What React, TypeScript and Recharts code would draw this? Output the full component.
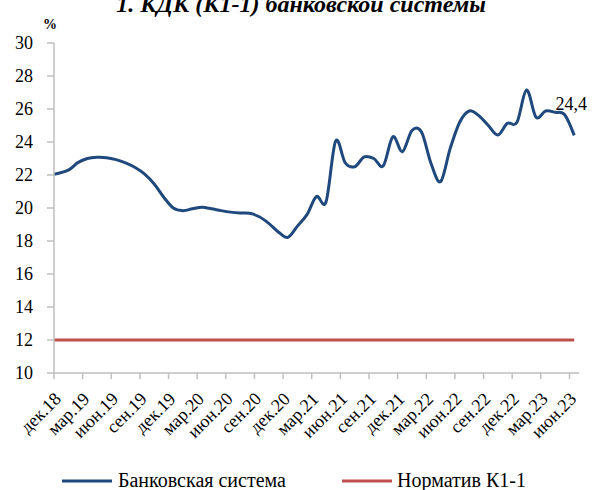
import React from 'react';
import { LineChart, Line, XAxis, YAxis } from 'recharts';

// Month offsets from дек.18 (reporting dates)
const monthPositions = [
  0, 1.5, 2.5, 3.5, 4.5, 5.5, 6.5, 7.5, 8.5, 9.5, 10.5, 11.5, 12.5, 13.5, 14.5, 15.5, 16.5, 17.5, 18.5, 19.5,
  20.5, 21.5, 22.5, 23.5, 24.5, 25.5, 26.5, 27.5, 28.5, 29.5, 30.5, 31.5, 32.5, 33.5, 34.5, 35.5, 36.5, 37.5,
  38.5, 39.5, 40.5, 41.5, 42.5, 43.5, 44.5, 45.5, 46.5, 47.5, 48.5, 49.5, 50.5, 51.5, 52.5, 53.5, 54.5,
];

const bankSystem = [
  22.05, 22.3, 22.75, 23.0, 23.07, 23.05, 22.93, 22.73, 22.45, 22.05, 21.45, 20.65, 20.0, 19.84, 19.95, 20.04,
  19.95, 19.84, 19.75, 19.7, 19.68, 19.47, 19.07, 18.55, 18.22, 18.9, 19.6, 20.7, 20.38, 24.05, 22.75, 22.5,
  23.1, 23.0, 22.56, 24.32, 23.41, 24.7, 24.6, 22.7, 21.6, 23.6, 25.2, 25.88, 25.6, 25.0, 24.42, 25.13, 25.19,
  27.15, 25.5, 25.88, 25.8, 25.65, 24.4,
];

const normK11 = monthPositions.map(() => 12);

const tickPositions = [0, 3, 6, 9, 12, 15, 18, 21, 24, 27, 30, 33, 36, 39, 42, 45, 48, 51, 54];
const tickLabels = [
  'дек.18', 'мар.19', 'июн.19', 'сен.19', 'дек.19', 'мар.20', 'июн.20', 'сен.20', 'дек.20', 'мар.21',
  'июн.21', 'сен.21', 'дек.21', 'мар.22', 'июн.22', 'сен.22', 'дек.22', 'мар.23', 'июн.23',
];

const yTicks = [10, 12, 14, 16, 18, 20, 22, 24, 26, 28, 30];

const data = monthPositions.map((t, i) => ({ t, bank: bankSystem[i], norm: normK11[i] }));

const FONT = '"Liberation Serif", "Times New Roman", serif';
const BLUE = '#1F497D';
const RED = '#C0504D';
const AXIS = '#BFBFBF';

class CatmullCurve {
  _context: any;
  _k: number;
  _line: number = NaN;
  _point = 0;
  _x0 = NaN; _x1 = NaN; _x2 = NaN; _y0 = NaN; _y1 = NaN; _y2 = NaN;
  constructor(context: any, tension: number) {
    this._context = context;
    this._k = (1 - tension) / 6;
  }
  areaStart() { this._line = 0; }
  areaEnd() { this._line = NaN; }
  lineStart() {
    this._x0 = this._x1 = this._x2 = this._y0 = this._y1 = this._y2 = NaN;
    this._point = 0;
  }
  lineEnd() {
    switch (this._point) {
      case 2: this._context.lineTo(this._x2, this._y2); break;
      case 3: this._bez(this._x1, this._y1); break;
    }
    if (this._line || (this._line !== 0 && this._point === 1)) this._context.closePath();
    this._line = 1 - this._line;
  }
  _bez(x: number, y: number) {
    this._context.bezierCurveTo(
      this._x1 + this._k * (this._x2 - this._x0),
      this._y1 + this._k * (this._y2 - this._y0),
      this._x2 + this._k * (this._x1 - x),
      this._y2 + this._k * (this._y1 - y),
      this._x2,
      this._y2,
    );
  }
  point(x: number, y: number) {
    x = +x; y = +y;
    switch (this._point) {
      case 0: this._point = 1; this._line ? this._context.lineTo(x, y) : this._context.moveTo(x, y); break;
      case 1: this._point = 2; this._x1 = x; this._y1 = y; break;
      case 2: this._point = 3; this._bez(x, y); break;
      default: this._bez(x, y); break;
    }
    this._x0 = this._x1; this._x1 = this._x2; this._x2 = x;
    this._y0 = this._y1; this._y1 = this._y2; this._y2 = y;
  }
}

const smoothCurve = (ctx: any) => new CatmullCurve(ctx, 0);

const XTick = (props: any) => {
  const { x, y, payload } = props;
  const idx = tickPositions.indexOf(payload.value);
  const label = idx >= 0 ? tickLabels[idx] : '';
  const ax = x + 8;
  const ay = y + 19;
  return (
    <text
      x={ax}
      y={ay}
      textAnchor="end"
      transform={`rotate(-45, ${ax}, ${ay})`}
      fontSize={18}
      fontFamily={FONT}
      fill="#000"
    >
      {label}
    </text>
  );
};

const LastLabel = (props: any) => {
  const { x, y, index } = props;
  if (index !== data.length - 1) return <g />;
  return (
    <text x={x - 3} y={y - 25} textAnchor="middle" fontSize={18} fontFamily={FONT} fill="#000">
      24,4
    </text>
  );
};

export default function App() {
  return (
    <div style={{ position: 'absolute', left: 0, top: 0, width: 595, height: 490, background: '#fff' }}>
      <LineChart width={595} height={490} data={data} margin={{ top: 43, right: 16, left: 0, bottom: 0 }}>
        <XAxis
          type="number"
          dataKey="t"
          domain={[0, 55]}
          ticks={tickPositions}
          interval={0}
          tick={<XTick />}
          tickSize={6}
          height={117}
          axisLine={{ stroke: AXIS, strokeWidth: 1.5 }}
          tickLine={{ stroke: AXIS, strokeWidth: 1.5 }}
        />
        <YAxis
          type="number"
          domain={[10, 30]}
          ticks={yTicks}
          interval={0}
          width={54}
          tickSize={7}
          tickMargin={14}
          tick={{ fontSize: 18, fill: '#000', fontFamily: FONT }}
          axisLine={{ stroke: AXIS, strokeWidth: 1.5 }}
          tickLine={{ stroke: AXIS, strokeWidth: 1.5 }}
        />
        <Line
          dataKey="norm"
          type="linear"
          stroke={RED}
          strokeWidth={3}
          dot={false}
          activeDot={false}
          isAnimationActive={false}
        />
        <Line
          dataKey="bank"
          type={smoothCurve as any}
          stroke={BLUE}
          strokeWidth={3}
          dot={false}
          activeDot={false}
          isAnimationActive={false}
          label={<LastLabel />}
        />
      </LineChart>
      <svg
        width={595}
        height={490}
        style={{ position: 'absolute', left: 0, top: 0, pointerEvents: 'none' }}
      >
        <text
          x={301}
          y={12}
          textAnchor="middle"
          fontSize={24}
          fontWeight="bold"
          fontStyle="italic"
          fontFamily={FONT}
          fill="#000"
        >
          1. КДК (К1-1) банковской системы
        </text>
        <text x={50} y={29} textAnchor="middle" fontSize={14} fontWeight="bold" fontFamily={FONT} fill="#000">
          %
        </text>
        <line x1={62} y1={481} x2={112} y2={481} stroke={BLUE} strokeWidth={3} />
        <text x={118} y={487} fontSize={20} fontFamily={FONT} fill="#000">
          Банковская система
        </text>
        <line x1={342} y1={481} x2={392} y2={481} stroke={RED} strokeWidth={3} />
        <text x={397} y={487} fontSize={20} fontFamily={FONT} fill="#000">
          Норматив К1-1
        </text>
      </svg>
    </div>
  );
}
